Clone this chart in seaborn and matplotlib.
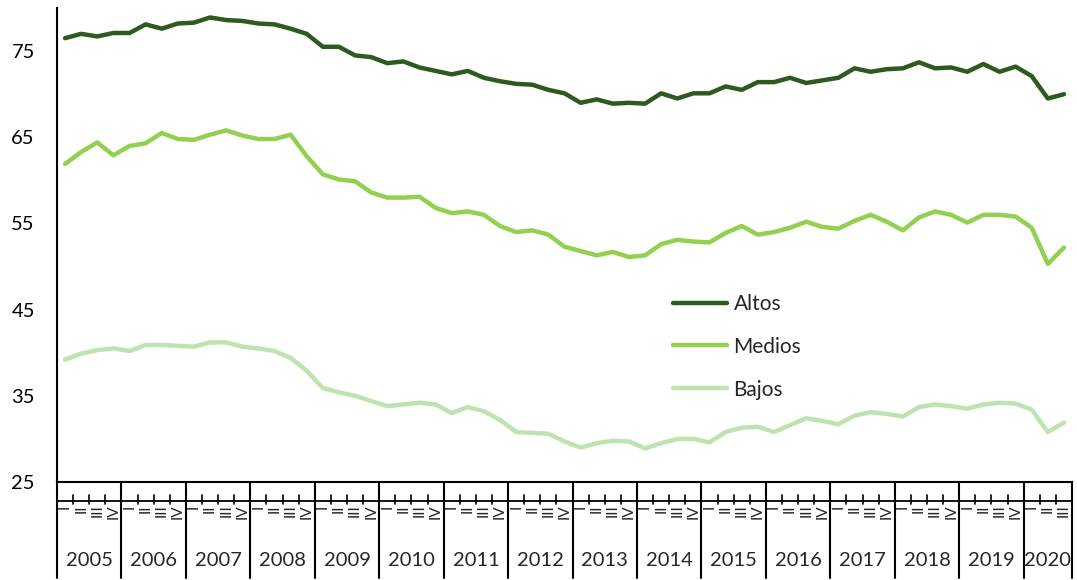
import numpy as np
import pandas as pd
import matplotlib
matplotlib.use("Agg")
import matplotlib.pyplot as plt
import matplotlib.transforms as mtransforms
import seaborn as sns

# quarterly series, 2005-I to 2020-III
years = [str(y) for y in range(2005, 2021)]
quarters = ['I', 'II', 'III', 'IV']

altos = [76.5, 77.0, 76.7, 77.1, 77.1, 78.1, 77.6, 78.2, 78.3, 78.9, 78.6, 78.5, 78.2, 78.1, 77.6, 77.0,
         75.5, 75.5, 74.5, 74.3, 73.6, 73.8, 73.1, 72.7, 72.3, 72.7, 71.9, 71.5, 71.2, 71.1, 70.5, 70.1,
         69.0, 69.4, 68.9, 69.0, 68.9, 70.1, 69.5, 70.1, 70.1, 70.9, 70.5, 71.4, 71.4, 71.9, 71.3, 71.6,
         71.9, 73.0, 72.6, 72.9, 73.0, 73.7, 73.0, 73.1, 72.6, 73.5, 72.6, 73.2, 72.1, 69.5, 70.0]
medios = [61.9, 63.3, 64.4, 62.9, 64.0, 64.3, 65.5, 64.8, 64.7, 65.3, 65.8, 65.2, 64.8, 64.8, 65.3, 62.8,
          60.7, 60.1, 59.9, 58.6, 58.0, 58.0, 58.1, 56.8, 56.2, 56.4, 56.0, 54.7, 54.0, 54.2, 53.7, 52.3,
          51.8, 51.3, 51.7, 51.1, 51.3, 52.6, 53.1, 52.9, 52.8, 53.9, 54.7, 53.7, 54.0, 54.5, 55.2, 54.6,
          54.4, 55.3, 56.0, 55.2, 54.2, 55.7, 56.4, 56.0, 55.1, 56.0, 56.0, 55.8, 54.5, 50.3, 52.2]
bajos = [39.2, 39.9, 40.3, 40.5, 40.2, 40.9, 40.9, 40.8, 40.7, 41.2, 41.2, 40.7, 40.5, 40.2, 39.4, 37.9,
         35.9, 35.4, 35.0, 34.4, 33.8, 34.0, 34.2, 34.0, 33.0, 33.7, 33.2, 32.2, 30.8, 30.7, 30.6, 29.7,
         29.0, 29.5, 29.8, 29.7, 28.9, 29.5, 30.0, 30.0, 29.6, 30.8, 31.3, 31.4, 30.8, 31.6, 32.4, 32.1,
         31.7, 32.7, 33.1, 32.9, 32.6, 33.7, 34.0, 33.8, 33.5, 34.0, 34.2, 34.1, 33.4, 30.8, 31.9]

n = len(altos)
labels_q = [quarters[i % 4] for i in range(n)]

df = pd.DataFrame({
    'idx': list(range(n)) * 3,
    'valor': altos + medios + bajos,
    'grupo': ['Altos'] * n + ['Medios'] * n + ['Bajos'] * n,
})

sns.set_style("white")
plt.rcParams['font.family'] = ['Lato', 'DejaVu Sans']

fig = plt.figure(figsize=(10.77, 5.8), dpi=100)
ax = fig.add_axes([57 / 1077, 1 - 482 / 580, 1015 / 1077, 474 / 580])

palette = {'Altos': '#2D5A1E', 'Medios': '#92D050', 'Bajos': '#BEE3AE'}
sns.lineplot(data=df, x='idx', y='valor', hue='grupo', palette=palette,
             linewidth=3.2, ax=ax, legend=True)
for line in ax.lines:
    line.set_solid_joinstyle('round')
    line.set_solid_capstyle('round')

ax.set_xlim(-0.5, n - 0.5)
ax.set_ylim(25, 80)
ax.set_yticks([25, 35, 45, 55, 65, 75])
ax.tick_params(axis='y', length=0, pad=16, labelsize=14.5, colors='#000000')
ax.set_xticks([])
ax.set_xlabel('')
ax.set_ylabel('')
for s in ['top', 'right']:
    ax.spines[s].set_visible(False)
for s in ['left', 'bottom']:
    ax.spines[s].set_color('black')
    ax.spines[s].set_linewidth(1.5)

leg = ax.legend(loc='upper left', bbox_to_anchor=(0.607, 0.397), frameon=False,
                fontsize=15, handlelength=2.6, handletextpad=0.3, labelspacing=1.1,
                borderpad=0, borderaxespad=0)
for h in leg.get_lines():
    h.set_linewidth(3.2)

# multi-level category axis
trans = mtransforms.blended_transform_factory(ax.transData, ax.transAxes)
ax.plot([-0.5, n - 0.5], [-0.040, -0.040], color='black', lw=1.3,
        transform=trans, clip_on=False)
for i in range(n):
    ax.text(i, -0.047, labels_q[i], rotation=90, ha='center', va='top',
            fontsize=11, transform=trans)
    if i % 4 != 0:
        ax.plot([i - 0.5, i - 0.5], [-0.028, -0.046], color='black', lw=1.2,
                transform=trans, clip_on=False)
bounds = list(range(0, n, 4)) + [n]
for b in bounds:
    ax.plot([b - 0.5, b - 0.5], [0, -0.203], color='black', lw=1.5,
            transform=trans, clip_on=False)
for k, yr in enumerate(years):
    start = 4 * k
    end = min(start + 4, n)
    ax.text((start + end - 1) / 2, -0.165, yr, ha='center', va='center',
            fontsize=14.5, transform=trans)

fig.savefig('out.png', dpi=100)
